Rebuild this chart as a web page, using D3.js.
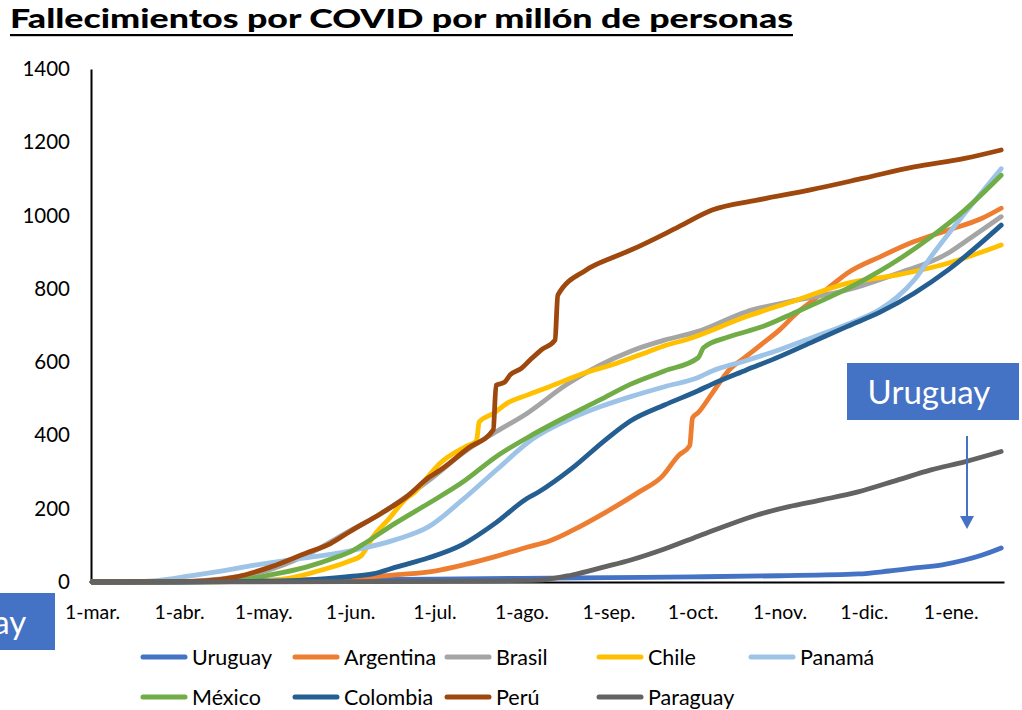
<!DOCTYPE html>
<html>
<head>
<meta charset="utf-8">
<script src="https://cdn.jsdelivr.net/npm/d3@7"></script>
<style>
  body { margin: 0; background: #fff; }
  svg text { font-family: Lato, "Noto Sans", sans-serif; }
</style>
</head>
<body>
<div id="chart"></div>
<script>
var countries = ["Uruguay", "Argentina", "Brasil", "Chile", "Panamá", "México", "Colombia", "Perú", "Paraguay"];
var monthLabels = ["mar", "abr", "may", "jun", "jul", "ago", "sep", "oct", "nov", "dic", "ene"];
var yTicks = [0, 200, 400, 600, 800, 1000, 1200, 1400];

var uruguay = [["2020-03-01",0],["2020-04-01",1],["2020-05-01",5],["2020-06-01",6],["2020-07-01",8],["2020-08-01",10],["2020-09-01",12],["2020-10-01",14],["2020-11-01",17],["2020-11-29",22],["2020-12-10",30],["2020-12-20",39],["2020-12-29",47],["2021-01-06",60],["2021-01-12",73],["2021-01-19",93]];
var argentina = [["2020-03-01",0],["2020-04-01",1],["2020-05-01",4],["2020-06-01",10],["2020-06-18",20],["2020-07-01",30],["2020-07-12",48],["2020-07-23",70],["2020-08-03",95],["2020-08-11",112],["2020-08-19",140],["2020-08-31",190],["2020-09-12",246],["2020-09-20",287],["2020-09-26",345],["2020-09-30",372],["2020-10-01",448],["2020-10-03",462],["2020-10-08",515],["2020-10-14",578],["2020-10-20",615],["2020-10-26",651],["2020-11-01",688],["2020-11-07",733],["2020-11-13",769],["2020-11-19",806],["2020-11-25",842],["2020-12-07",888],["2020-12-19",929],["2020-12-31",960],["2021-01-12",992],["2021-01-19",1020]];
var brasil = [["2020-03-01",0],["2020-04-01",1],["2020-04-15",8],["2020-05-01",28],["2020-05-16",72],["2020-06-01",140],["2020-06-12",187],["2020-06-29",277],["2020-07-13",362],["2020-07-23",410],["2020-08-03",460],["2020-08-17",538],["2020-08-29",592],["2020-09-09",630],["2020-09-21",660],["2020-10-03",684],["2020-10-20",737],["2020-11-07",769],["2020-11-25",797],["2020-12-13",842],["2020-12-31",897],["2021-01-06",928],["2021-01-19",997]];
var chile = [["2020-03-01",0],["2020-04-01",0],["2020-05-01",3],["2020-05-10",10],["2020-05-22",33],["2020-06-01",58],["2020-06-05",72],["2020-06-09",122],["2020-06-15",174],["2020-06-21",228],["2020-06-24",245],["2020-06-29",290],["2020-07-03",324],["2020-07-12",369],["2020-07-16",385],["2020-07-17",437],["2020-07-22",460],["2020-07-27",488],["2020-08-03",510],["2020-08-11",533],["2020-08-23",569],["2020-09-04",597],["2020-09-15",628],["2020-09-21",645],["2020-09-29",662],["2020-10-20",724],["2020-11-07",769],["2020-11-25",815],["2020-12-13",838],["2020-12-31",870],["2021-01-19",920]];
var panama = [["2020-03-01",0],["2020-03-12",0],["2020-03-24",4],["2020-04-05",17],["2020-04-16",30],["2020-04-28",46],["2020-05-10",60],["2020-05-22",72],["2020-06-03",88],["2020-06-17",115],["2020-06-29",151],["2020-07-11",224],["2020-07-23",305],["2020-08-05",390],["2020-08-17",440],["2020-08-29",478],["2020-09-09",506],["2020-09-21",533],["2020-10-03",558],["2020-10-08",576],["2020-10-20",604],["2020-11-01",634],["2020-11-13",668],["2020-11-25",703],["2020-12-07",745],["2020-12-13",778],["2020-12-19",824],["2020-12-25",888],["2021-01-06",1006],["2021-01-19",1128]];
var mexico = [["2020-03-01",0],["2020-04-01",0],["2020-04-22",5],["2020-05-04",20],["2020-05-16",40],["2020-05-28",70],["2020-06-01",82],["2020-06-05",100],["2020-06-17",160],["2020-06-29",215],["2020-07-11",272],["2020-07-23",342],["2020-08-05",402],["2020-08-17",451],["2020-08-29",497],["2020-09-09",540],["2020-09-21",576],["2020-10-03",612],["2020-10-05",640],["2020-10-14",669],["2020-10-26",697],["2020-11-07",737],["2020-11-19",778],["2020-12-01",824],["2020-12-13",878],["2020-12-25",942],["2021-01-06",1015],["2021-01-19",1110]];
var colombia = [["2020-03-01",0],["2020-04-01",0],["2020-05-01",2],["2020-05-16",5],["2020-06-01",15],["2020-06-09",22],["2020-06-18",42],["2020-06-29",66],["2020-07-11",102],["2020-07-23",162],["2020-08-03",228],["2020-08-07",245],["2020-08-19",310],["2020-08-31",388],["2020-09-09",440],["2020-09-21",483],["2020-10-03",522],["2020-10-08",540],["2020-10-20",578],["2020-11-01",615],["2020-11-13",656],["2020-11-25",697],["2020-12-07",737],["2020-12-19",788],["2020-12-31",851],["2021-01-19",974]];
var peru = [["2020-03-01",0],["2020-04-01",1],["2020-04-10",3],["2020-04-22",15],["2020-05-04",42],["2020-05-16",78],["2020-05-25",105],["2020-06-01",138],["2020-06-12",187],["2020-06-21",232],["2020-06-29",285],["2020-07-03",305],["2020-07-13",365],["2020-07-22",415],["2020-07-23",537],["2020-07-26",545],["2020-07-28",565],["2020-08-01",583],["2020-08-04",605],["2020-08-08",633],["2020-08-13",660],["2020-08-14",783],["2020-08-24",851],["2020-09-03",887],["2020-09-09",906],["2020-09-26",969],["2020-10-08",1015],["2020-10-24",1042],["2020-11-12",1070],["2020-12-01",1102],["2020-12-19",1133],["2021-01-06",1156],["2021-01-19",1179]];
var paraguay = [["2020-03-01",0],["2020-06-01",1],["2020-07-01",2],["2020-08-07",5],["2020-08-19",19],["2020-08-31",42],["2020-09-09",60],["2020-09-21",90],["2020-10-03",125],["2020-10-12",151],["2020-10-24",183],["2020-11-04",205],["2020-11-16",224],["2020-11-29",246],["2020-12-13",278],["2020-12-25",306],["2021-01-06",328],["2021-01-19",356]];

var seriesData = [uruguay, argentina, brasil, chile, panama, mexico, colombia, peru, paraguay];
var colors = ["#4472C4", "#ED7D31", "#A5A5A5", "#FFC000", "#9DC3E6", "#70AD47", "#255E91", "#9E480E", "#636363"];

var svgWidth = 1022;
var svgHeight = 710;
var parse = d3.timeParse("%Y-%m-%d");

var svg = d3.select("#chart")
  .append("svg")
  .attr("width", svgWidth)
  .attr("height", svgHeight);

var x = d3.scaleTime()
  .domain([parse("2020-03-01"), parse("2021-01-20")])
  .range([92, 1004]);

var y = d3.scaleLinear()
  .domain([0, 1400])
  .range([582, 69]);

// titulo
svg.append("text")
  .attr("x", 10)
  .attr("y", 28)
  .attr("textLength", 783)
  .attr("lengthAdjust", "spacingAndGlyphs")
  .attr("font-size", 27)
  .attr("font-weight", "900")
  .attr("fill", "#000")
  .text("Fallecimientos por COVID por millón de personas");

svg.append("rect")
  .attr("x", 10)
  .attr("y", 34)
  .attr("width", 783)
  .attr("height", 2.2)
  .attr("fill", "#000");

// ejes
var yAxis = svg.append("g")
  .attr("transform", "translate(91,0)")
  .call(d3.axisLeft(y).tickValues(yTicks).tickSize(0).tickPadding(21).tickFormat(d3.format("d")));
yAxis.select(".domain").attr("stroke", "#000").attr("stroke-width", 2);
yAxis.selectAll("text").attr("font-size", 20.5).attr("fill", "#000");

var monthTicks = d3.timeMonth.range(parse("2020-03-01"), parse("2021-01-02"));
var xAxis = svg.append("g")
  .attr("transform", "translate(0,582)")
  .call(d3.axisBottom(x)
    .tickValues(monthTicks)
    .tickSize(0)
    .tickPadding(23)
    .tickFormat(function(d, i) { return "1-" + monthLabels[i] + "."; }));
xAxis.select(".domain").attr("stroke", "#000").attr("stroke-width", 2);
xAxis.selectAll("text").attr("font-size", 19.5).attr("fill", "#000");

// lineas
var line = d3.line()
  .x(function(d) { return x(parse(d[0])); })
  .y(function(d) { return y(d[1]); })
  .curve(d3.curveMonotoneX);

svg.selectAll("path.serie")
  .data(seriesData)
  .enter()
  .append("path")
  .attr("class", "serie")
  .attr("d", line)
  .attr("fill", "none")
  .attr("stroke", function(d, i) { return colors[i]; })
  .attr("stroke-width", 4.8)
  .attr("stroke-linejoin", "round")
  .attr("stroke-linecap", "round");

// leyenda
var legend = svg.selectAll("g.leg")
  .data(countries)
  .enter()
  .append("g")
  .attr("class", "leg")
  .attr("transform", function(d, i) {
    return "translate(" + (140 + (i % 5) * 152) + "," + (i < 5 ? 657 : 697) + ")";
  });

legend.append("line")
  .attr("x1", 3)
  .attr("x2", 45)
  .attr("y1", 0)
  .attr("y2", 0)
  .attr("stroke", function(d, i) { return colors[i]; })
  .attr("stroke-width", 5)
  .attr("stroke-linecap", "round");

legend.append("text")
  .attr("x", 52)
  .attr("y", 7.5)
  .attr("font-size", 21.5)
  .attr("fill", "#000")
  .text(function(d) { return d; });

// etiqueta Uruguay
function labelBox(bx, by) {
  svg.append("rect")
    .attr("x", bx)
    .attr("y", by)
    .attr("width", 172)
    .attr("height", 57)
    .attr("fill", "#4472C4");
  svg.append("text")
    .attr("x", bx + 82)
    .attr("y", by + 41)
    .attr("text-anchor", "middle")
    .attr("font-size", 33)
    .attr("fill", "#fff")
    .text("Uruguay");
}
labelBox(847, 363);
labelBox(-117, 593);

svg.append("line")
  .attr("x1", 967)
  .attr("x2", 967)
  .attr("y1", 436)
  .attr("y2", 517)
  .attr("stroke", "#4472C4")
  .attr("stroke-width", 2);

svg.append("path")
  .attr("d", "M960,516 L974,516 L967,529 Z")
  .attr("fill", "#4472C4");
</script>
</body>
</html>
